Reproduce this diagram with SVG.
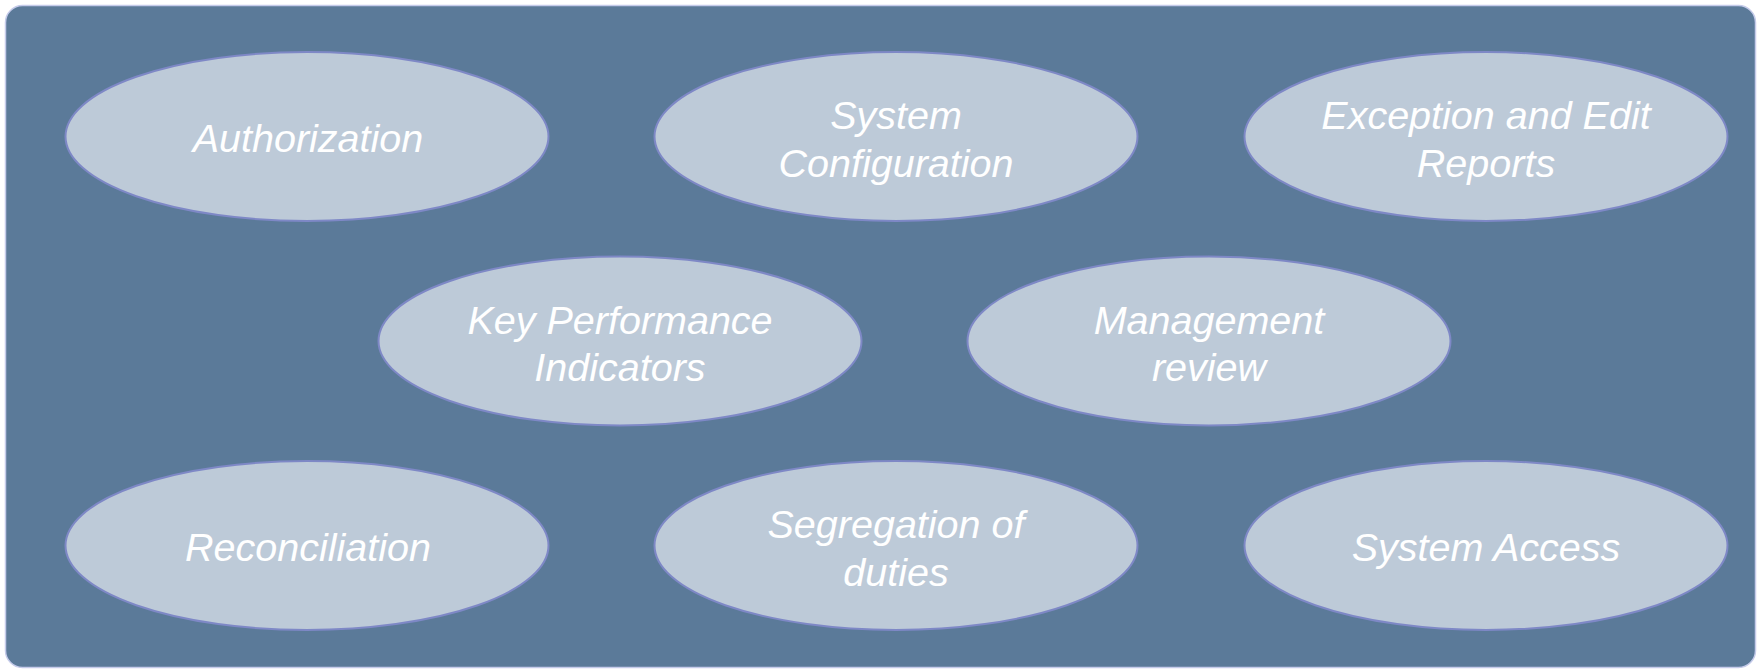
<svg xmlns="http://www.w3.org/2000/svg" width="1761" height="671" viewBox="0 0 1761 671">
<defs>
<style>
.bg{fill:#5B7A99;stroke:#C5CBEA;stroke-width:1.5}
.node ellipse{fill:#BDCAD8;stroke:#7E88C6;stroke-width:2}
.node text{font-family:"Liberation Sans",Arial,sans-serif;font-style:italic;font-size:39.5px;fill:#FFFFFF;text-anchor:middle}
</style>
</defs>
<rect width="1761" height="671" fill="#FFFFFF"/>
<rect class="bg" x="5.5" y="5.5" width="1750" height="662" rx="17" ry="17"/>
<g id="connectors"></g>
<g id="authorization" class="node"><ellipse cx="307" cy="136.5" rx="241.5" ry="84.5"/><text x="308" y="152">Authorization</text></g>
<g id="system-configuration" class="node"><ellipse cx="896" cy="136.5" rx="241.5" ry="84.5"/><text x="896" y="129">System</text><text x="896" y="176.5">Configuration</text></g>
<g id="exception-edit-reports" class="node"><ellipse cx="1486" cy="136.5" rx="241.5" ry="84.5"/><text x="1486" y="129">Exception and Edit</text><text x="1486" y="176.5">Reports</text></g>
<g id="kpi" class="node"><ellipse cx="620" cy="341" rx="241.5" ry="84.5"/><text x="620" y="333.5">Key Performance</text><text x="620" y="381">Indicators</text></g>
<g id="management-review" class="node"><ellipse cx="1209" cy="341" rx="241.5" ry="84.5"/><text x="1209" y="333.5">Management</text><text x="1209" y="381">review</text></g>
<g id="reconciliation" class="node"><ellipse cx="307" cy="545.5" rx="241.5" ry="84.5"/><text x="308" y="561">Reconciliation</text></g>
<g id="segregation-of-duties" class="node"><ellipse cx="896" cy="545.5" rx="241.5" ry="84.5"/><text x="896" y="538">Segregation of</text><text x="896" y="585.5">duties</text></g>
<g id="system-access" class="node"><ellipse cx="1486" cy="545.5" rx="241.5" ry="84.5"/><text x="1486" y="561">System Access</text></g>
</svg>
